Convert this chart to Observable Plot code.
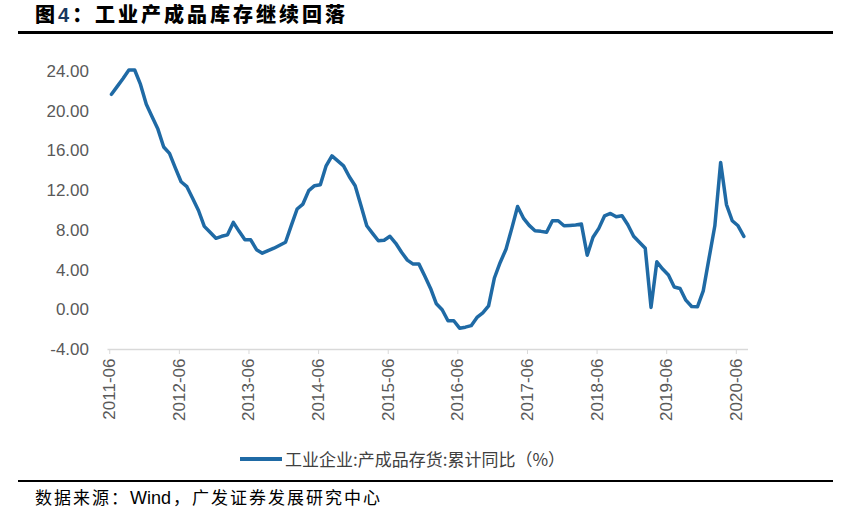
<!DOCTYPE html>
<html><head><meta charset="utf-8">
<script src="https://cdn.jsdelivr.net/npm/d3@7"></script>
<script src="https://cdn.jsdelivr.net/npm/@observablehq/plot@0.6"></script>
<style>
body{margin:0;background:#fff;width:853px;height:516px;position:relative;overflow:hidden;font-family:"Noto Sans CJK SC",sans-serif;}
#title{position:absolute;left:35px;top:0px;font-size:20px;font-weight:900;letter-spacing:3px;color:#000;line-height:28px;white-space:nowrap;}
#title .n{color:#17375e;font-family:"Liberation Sans",sans-serif;font-weight:bold;}
#rule1{position:absolute;left:18px;top:31px;width:815px;height:3px;background:#000;}
#chart{position:absolute;left:0;top:40px;}
#legend{position:absolute;top:447px;left:240px;display:flex;align-items:center;font-size:17px;line-height:24px;color:#404040;white-space:nowrap;}
#legend .sw{width:42px;height:4px;background:#1f6aa5;margin-right:3px;}
#rule2{position:absolute;left:18px;top:480px;width:757px;height:1.5px;background:#000;}
#rule3{position:absolute;left:775px;top:479.5px;width:58px;height:2.5px;background:#000;}
#source{position:absolute;left:35px;top:486px;font-size:17px;line-height:22px;letter-spacing:2px;color:#000;white-space:nowrap;}
#source .w{letter-spacing:0;font-family:"Liberation Sans Narrow","Liberation Sans",sans-serif;font-size:18px;margin-right:2px;}
</style></head>
<body>
<div id="title">图<span class="n">4</span>：工业产成品库存继续回落</div>
<div id="rule1"></div>
<div id="chart"></div>
<div id="legend"><div class="sw"></div><span id="legtext"></span></div>
<div id="rule2"></div><div id="rule3"></div>
<div id="source">数据来源：<span class="w">Wind</span>，广发证券发展研究中心</div>
<script>
const seriesName = "工业企业:产成品存货:累计同比（%）";
const values = [
 21.7, 22.5, 23.3, 24.15, 24.15, 22.7, 20.7, 19.45, 18.2, 16.4,
 15.75, 14.3, 12.9, 12.4, 11.2, 10.0, 8.4, 7.8, 7.2, 7.4,
 7.55, 8.8, 7.9, 7.05, 7.05, 6.05, 5.7, 5.95, 6.2, 6.5,
 6.8, 8.5, 10.15, 10.65, 12.0, 12.5, 12.6, 14.5, 15.5, 15.0,
 14.5, 13.4, 12.5, 10.5, 8.46, 7.7, 6.95, 7.0, 7.4, 6.7,
 5.8, 5.0, 4.6, 4.6, 3.4, 2.15, 0.6, 0.0, -1.1, -1.1,
 -1.85, -1.75, -1.6, -0.77, -0.3, 0.4, 3.2, 4.77, 6.1, 8.2,
 10.4, 9.24, 8.5, 7.96, 7.9, 7.8, 8.97, 8.97, 8.46, 8.5,
 8.55, 8.63, 5.5, 7.3, 8.2, 9.47, 9.7, 9.37, 9.47, 8.56,
 7.4, 6.8, 6.2, 0.24, 4.84, 4.1, 3.5, 2.3, 2.15, 0.97,
 0.33, 0.3, 1.9, 5.2, 8.46, 14.84, 10.6, 8.97, 8.46, 7.39
];
const tickLabels = ["2011-06","2012-06","2013-06","2014-06","2015-06","2016-06","2017-06","2018-06","2019-06","2020-06"];
const yTicks = [-4, 0, 4, 8, 12, 16, 20, 24];

document.getElementById("legtext").textContent = seriesName;
const data = values.map((v, i) => ({i, v}));
const tickIdx = tickLabels.map((_, j) => 12 * j - 0.3);

const chart = Plot.plot({
  width: 853, height: 389,
  marginLeft: 107.5, marginRight: 105, marginTop: 31, marginBottom: 80,
  x: {domain: [-0.6, 109.8]},
  y: {domain: [-4, 24]},
  style: {fontFamily: "'Liberation Sans', Arial, sans-serif", fontSize: "17px", color: "#595959", background: "transparent"},
  marks: [
    Plot.ruleY([-4], {stroke: "#d9d9d9", strokeWidth: 1.5}),
    Plot.axisY({ticks: yTicks, tickSize: 0, tickPadding: 19, tickFormat: d => d.toFixed(2), label: null, fill: "#595959"}),
    Plot.axisX({ticks: tickIdx, tickFormat: d => tickLabels[Math.round((d + 0.3) / 12)], tickRotate: -90, tickSize: 5, tickPadding: 4, stroke: "#d9d9d9", fill: "#595959", label: null}),
    Plot.line(data, {x: "i", y: "v", stroke: "#1f6aa5", strokeWidth: 3.5, strokeLinejoin: "round"})
  ]
});
document.getElementById("chart").appendChild(chart);
</script>
</body></html>
